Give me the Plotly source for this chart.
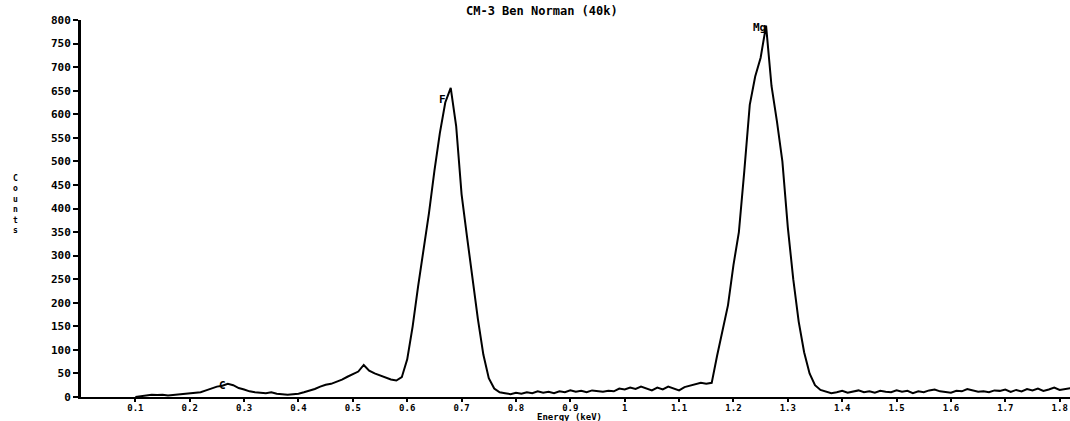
import numpy as np
import plotly.graph_objects as go

# EDS spectrum: 10 eV channels from 0.10 keV to 1.82 keV
start_kev = 0.10
channel_kev = 0.01
counts = [
    0, 2, 4, 5, 4, 5, 3, 4, 5, 6,            # 0.10-0.19
    8, 9, 10, 14, 18, 22, 24, 28, 25, 19,    # 0.20-0.29
    16, 12, 10, 9, 8, 10, 7, 6, 5, 6,        # 0.30-0.39
    7, 10, 13, 17, 22, 26, 28, 32, 37, 43,   # 0.40-0.49
    48, 54, 68, 56, 50, 46, 42, 37, 35, 42,  # 0.50-0.59
    80, 150, 235, 310, 390, 480, 560, 625, 656, 575,  # 0.60-0.69
    430, 340, 250, 165, 90, 40, 18, 10, 8, 6,         # 0.70-0.79
    9, 7, 10, 8, 12, 9, 11, 8, 12, 10,       # 0.80-0.89
    14, 11, 13, 10, 14, 12, 11, 13, 12, 18,  # 0.90-0.99
    16, 20, 17, 22, 18, 14, 20, 16, 22, 18,  # 1.00-1.09
    14, 21, 24, 26, 30, 28, 30, 88, 140, 195,         # 1.10-1.19
    280, 350, 480, 620, 680, 720, 788, 660, 585, 500, # 1.20-1.29
    360, 250, 160, 95, 50, 25, 15, 12, 8, 10,         # 1.30-1.39
    13, 9, 12, 14, 10, 12, 9, 13, 11, 10,    # 1.40-1.49
    14, 11, 13, 8, 12, 10, 14, 16, 12, 11,   # 1.50-1.59
    9, 13, 12, 17, 14, 11, 12, 10, 14, 13,   # 1.60-1.69
    16, 11, 15, 12, 17, 14, 18, 13, 16, 20,  # 1.70-1.79
    15, 17, 19,                              # 1.80-1.82
]
energy = np.round(start_kev + channel_kev * np.arange(len(counts)), 2)

# element line markers (label, energy keV, counts)
peak_labels = ["C", "F", "Mg"]
peak_energy = [0.27, 0.68, 1.26]
peak_counts = [28, 656, 788]
label_dx = [0, -3, 2]     # px offset of the label's right edge
label_drop = [2, 12, 2]   # px below the peak top

x_ticks = [0.1, 0.2, 0.3, 0.4, 0.5, 0.6, 0.7, 0.8, 0.9, 1.0,
           1.1, 1.2, 1.3, 1.4, 1.5, 1.6, 1.7, 1.8]
x_tick_text = ["0.1", "0.2", "0.3", "0.4", "0.5", "0.6", "0.7", "0.8", "0.9", "1",
               "1.1", "1.2", "1.3", "1.4", "1.5", "1.6", "1.7", "1.8"]
y_ticks = list(range(0, 801, 50))

FONT = "DejaVu Sans Mono"

fig = go.Figure()
fig.add_trace(go.Scatter(
    x=energy, y=counts, mode="lines",
    line=dict(color="black", width=2),
    showlegend=False, hoverinfo="x+y",
))

for lab, ex, cy, dx, drop in zip(peak_labels, peak_energy, peak_counts, label_dx, label_drop):
    fig.add_annotation(
        x=ex, y=cy, text="<b>%s</b>" % lab, showarrow=False,
        xanchor="right", yanchor="middle", xshift=dx, yshift=-drop,
        font=dict(family=FONT, size=11, color="black"),
    )

fig.add_annotation(
    x=0.466, y=1, xref="paper", yref="paper", yanchor="middle", yshift=9,
    text="<b>CM-3 Ben Norman (40k)</b>", showarrow=False,
    font=dict(family=FONT, size=12, color="black"),
)
fig.add_annotation(
    x=0.494, y=0, xref="paper", yref="paper", yanchor="middle", yshift=-20,
    text="<b>Energy (keV)</b>", showarrow=False,
    font=dict(family=FONT, size=9, color="black"),
)
fig.add_annotation(
    x=-0.066, y=0.51, xref="paper", yref="paper", xanchor="center", yanchor="middle",
    text="<b>C<br>o<br>u<br>n<br>t<br>s</b>", showarrow=False,
    font=dict(family=FONT, size=8, color="black"),
)

fig.update_layout(
    width=1070, height=421,
    margin=dict(l=81, r=0, t=20, b=24),
    paper_bgcolor="white", plot_bgcolor="white",
    xaxis=dict(
        range=[0.0, 1.819], tickvals=x_ticks, ticktext=["<b>%s</b>" % t for t in x_tick_text],
        showline=True, linecolor="black", linewidth=1.5,
        ticks="outside", ticklen=3, tickwidth=1.5, tickcolor="black",
        ticklabelstandoff=-2,
        showgrid=False, zeroline=False,
        tickfont=dict(family=FONT, size=9, color="black"),
    ),
    yaxis=dict(
        range=[0, 800], tickvals=y_ticks, ticktext=["<b>%d</b>" % v for v in y_ticks],
        showline=True, linecolor="black", linewidth=3,
        ticks="outside", ticklen=5, tickwidth=1.5, tickcolor="black",
        showgrid=False, zeroline=False,
        tickfont=dict(family=FONT, size=11, color="black"),
    ),
)

fig.write_html("out.html")
